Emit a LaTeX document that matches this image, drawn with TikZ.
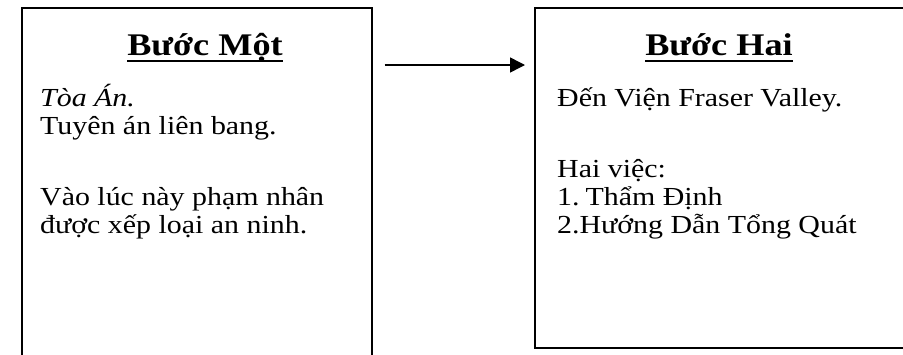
\documentclass[tikz,border=0pt]{standalone}
\usepackage{fontspec}
\setmainfont{Liberation Serif}[FakeStretch=1.15]
\usetikzlibrary{arrows.meta}

\tikzset{
  stepbox/.style={draw, line width=1.6pt, anchor=north west, inner sep=0pt},
  steptitle/.style={anchor=base, inner sep=0pt, font=\fontsize{31.5}{34}\selectfont\bfseries},
  steptext/.style={anchor=base west, inner sep=0pt, font=\fontsize{26}{28}\selectfont},
  titlerule/.style={line width=1.8pt},
}

\begin{document}
\begin{tikzpicture}[x=1pt,y=-1pt]
  \useasboundingbox (0,0) rectangle (903,354);
  \clip (0,0) rectangle (903,354);
  % the two boxes
  \node[stepbox, minimum width=350pt, minimum height=380pt] (stepone) at (21,7) {};
  \node[stepbox, minimum width=372pt, minimum height=340pt] (steptwo) at (534,7) {};
  % titles
  \node[steptitle] (titleone) at (205,55) {Bước Một};
  \node[steptitle] (titletwo) at (719,55) {Bước Hai};
  \draw[titlerule] ([yshift=-6pt]titleone.base west) -- ([yshift=-6pt]titleone.base east);
  \draw[titlerule] ([yshift=-6pt]titletwo.base west) -- ([yshift=-6pt]titletwo.base east);
  % step one
  \node[steptext] (courtline) at (40,106) {\itshape Tòa Án.};
  \node[steptext] (verdictline) at (40,134) {Tuyên án liên bang.};
  \node[steptext] (nowline) at (40,205) {Vào lúc này phạm nhân};
  \node[steptext] (classline) at (40,233) {được xếp loại an ninh.};
  % step two
  \node[steptext] (arriveline) at (557,106) {Đến Viện Fraser Valley.};
  \node[steptext] (tasksline) at (557,177) {Hai việc:};
  \node[steptext] (taskone) at (557,205) {1.\kern6pt Thẩm Định};
  \node[steptext] (tasktwo) at (557,233) {2.Hướng Dẫn Tổng Quát};
  % arrow between the steps
  \coordinate (arrowy) at (0,65);
  \draw[line width=1.5pt, -{Triangle[length=15pt,width=15pt]}, shorten <=12pt, shorten >=9pt]
    (stepone.east |- arrowy) -- (steptwo.west |- arrowy);
\end{tikzpicture}
\end{document}
